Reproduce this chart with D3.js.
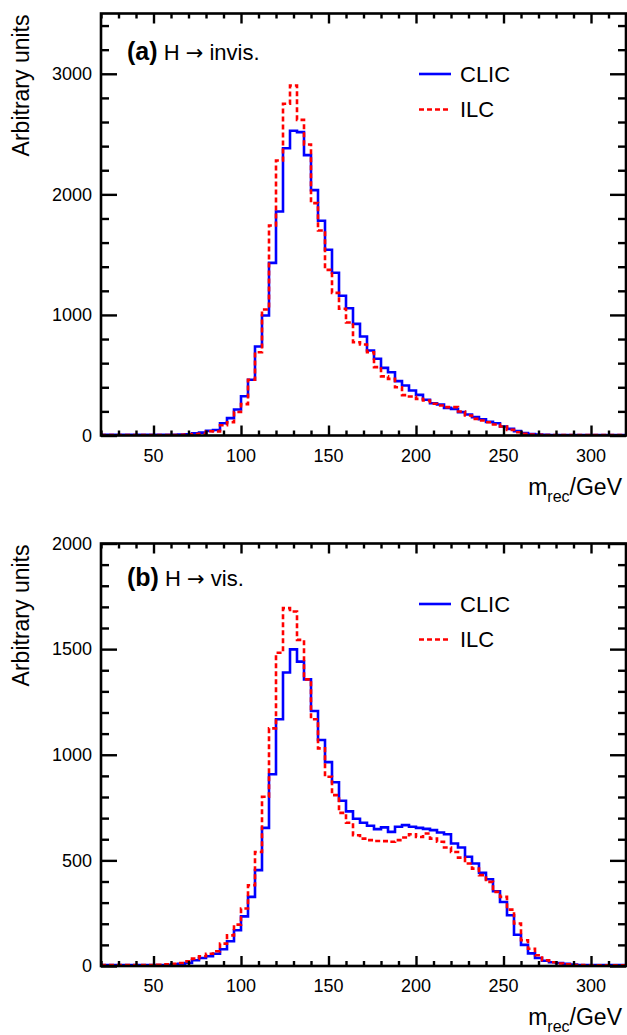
<!DOCTYPE html>
<html>
<head>
<meta charset="utf-8">
<script src="https://cdn.jsdelivr.net/npm/d3@7"></script>
<style>
html,body{margin:0;padding:0;background:#fff;}
svg{display:block;font-family:"Liberation Sans",Arial,Helvetica,sans-serif;}
</style>
</head>
<body>
<svg id="chart" width="627" height="1035"></svg>
<script>
// ---- data ----
// bin lower edges (4 GeV bins from 20 to 320)
const binEdges = d3.range(20, 321, 4);

const invisCLIC = [5,5,5,5,5,5,5,5,5,5,6,8,10,18,24,38,45,102,144,216,
  326,462,738,995,1432,1858,2383,2527,2516,2325,2035,1781,1540,1350,1159,1056,926,821,705,636,
  561,525,451,415,373,337,296,268,257,229,221,194,174,152,135,113,102,75,55,36,
  20,11,7,5,4,3,3,3,3,3,3,3,3,3,3];
const invisILC = [3,3,3,3,3,3,3,3,3,3,4,5,8,12,15,35,33,85,110,195,
  260,462,690,1045,1742,2281,2751,2903,2618,2414,1927,1700,1374,1183,1051,937,774,755,690,567,
  490,470,400,335,323,304,290,263,249,235,235,199,166,138,124,110,91,75,47,27,
  15,8,5,4,3,3,3,3,3,3,3,3,3,3,3];
const visCLIC = [4,4,4,4,4,4,4,4,4,4,8,11,14,27,38,46,58,79,117,169,
  235,327,454,654,908,1168,1389,1499,1441,1357,1207,1070,965,870,782,732,697,678,664,648,
  656,635,659,667,659,654,649,643,632,624,580,561,517,485,441,411,354,303,240,148,
  100,60,38,25,18,14,10,7,5,4,4,4,4,4,4];
const visILC = [4,4,4,4,4,4,4,4,6,8,11,14,22,35,46,58,70,106,145,196,
  272,382,540,801,1125,1483,1694,1678,1544,1357,1168,1030,896,809,725,678,619,603,596,592,
  591,588,596,608,624,611,627,603,588,561,540,513,485,461,430,398,351,327,267,201,
  122,82,51,27,18,12,8,5,4,3,3,3,3,3,3];

const xMajorTicks = [50,100,150,200,250,300];
const topYTicks = [0,1000,2000,3000];
const botYTicks = [0,500,1000,1500,2000];
const seriesNames = ["CLIC","ILC"];

// ---- drawing ----
const svg = d3.select("#chart");
const XL = 101, XR = 626;

function drawPanel(o){
  const g = svg.append("g");
  const x = d3.scaleLinear().domain([20,320]).range([XL,XR]);
  const y = d3.scaleLinear().domain([0,o.ymax]).range([o.yBottom,o.yTop]);

  const clipId = "clip"+o.id;
  svg.append("clipPath").attr("id",clipId).append("rect")
    .attr("x",XL).attr("y",o.yTop).attr("width",XR-XL).attr("height",o.yBottom-o.yTop);

  // histograms
  function stepPath(vals){
    const pts = [];
    vals.forEach((v,i)=>{
      pts.push([x(binEdges[i]), y(v)]);
      pts.push([x(binEdges[i+1]), y(v)]);
    });
    return d3.line()(pts);
  }
  const hg = g.append("g").attr("clip-path","url(#"+clipId+")");
  hg.append("path").attr("d",stepPath(o.clic)).attr("fill","none")
    .attr("stroke","#0000ff").attr("stroke-width",2.6);
  hg.append("path").attr("d",stepPath(o.ilc)).attr("fill","none")
    .attr("stroke","#ff0000").attr("stroke-width",2.6).attr("stroke-dasharray","5,3");

  // axes with inward ticks
  const xMinor = d3.range(20,321,10).filter(v=>v%50!==0);
  const yMinor = d3.range(0,o.ymax+1,o.minorStep).filter(v=>v%o.majorStep!==0);
  const yMajor = d3.range(0,o.ymax+1,o.majorStep);

  function ax(axisGen, tx, ty){
    const a = g.append("g").attr("transform",`translate(${tx},${ty})`).call(axisGen);
    a.select(".domain").remove();
    a.selectAll("line").attr("stroke","#000").attr("stroke-width",2.4);
    return a;
  }
  // bottom
  ax(d3.axisTop(x).tickValues(xMajorTicks).tickSize(10).tickFormat(""),0,o.yBottom);
  ax(d3.axisTop(x).tickValues(xMinor).tickSize(5).tickFormat(""),0,o.yBottom);
  // top
  ax(d3.axisBottom(x).tickValues(xMajorTicks).tickSize(10).tickFormat(""),0,o.yTop);
  ax(d3.axisBottom(x).tickValues(xMinor).tickSize(5).tickFormat(""),0,o.yTop);
  // left
  ax(d3.axisRight(y).tickValues(yMajor).tickSize(16).tickFormat(""),XL,0);
  ax(d3.axisRight(y).tickValues(yMinor).tickSize(8).tickFormat(""),XL,0);
  // right
  ax(d3.axisLeft(y).tickValues(yMajor).tickSize(16).tickFormat(""),XR,0);
  ax(d3.axisLeft(y).tickValues(yMinor).tickSize(8).tickFormat(""),XR,0);

  // frame
  g.append("rect").attr("x",XL).attr("y",o.yTop).attr("width",XR-XL).attr("height",o.yBottom-o.yTop)
    .attr("fill","none").attr("stroke","#000").attr("stroke-width",2.6);

  // tick labels
  g.selectAll(".xl").data(xMajorTicks).enter().append("text")
    .attr("x",d=>x(d)).attr("y",o.yBottom+26).attr("text-anchor","middle")
    .attr("font-size",18).text(d=>d);
  g.selectAll(".yl").data(o.yLabels).enter().append("text")
    .attr("x",92).attr("y",d=>y(d)).attr("dy","0.35em").attr("text-anchor","end")
    .attr("font-size",18).text(d=>d);

  // axis titles
  g.append("text").attr("transform",`translate(29,${o.yTop+1}) rotate(-90)`)
    .attr("text-anchor","end").attr("font-size",23).text("Arbitrary units");
  const xt = g.append("text").attr("x",622).attr("y",o.yBottom+59).attr("text-anchor","end").attr("font-size",23);
  xt.append("tspan").text("m");
  xt.append("tspan").attr("font-size",16).attr("dy",7).text("rec");
  xt.append("tspan").attr("dy",-7).text("/GeV");

  // panel label
  const lab = g.append("text").attr("x",127).attr("y",o.labelY).attr("font-size",22);
  lab.append("tspan").attr("font-weight","bold").attr("font-size",25).text(o.tag);
  lab.append("tspan").text(" H ");
  lab.append("tspan").attr("font-family","DejaVu Sans").attr("font-size",21).text("\u2192");
  lab.append("tspan").text(" "+o.proc);

  // legend
  const leg = [{n:seriesNames[0],c:"#0000ff",dash:null,y:o.yTop+60.5},
               {n:seriesNames[1],c:"#ff0000",dash:"5,3",y:o.yTop+96}];
  leg.forEach(l=>{
    g.append("line").attr("x1",419).attr("x2",451).attr("y1",l.y).attr("y2",l.y)
      .attr("stroke",l.c).attr("stroke-width",2.6).attr("stroke-dasharray",l.dash);
    g.append("text").attr("x",460).attr("y",l.y).attr("dy","0.36em").attr("font-size",22).text(l.n);
  });
}

drawPanel({id:"a",ymax:3500,yTop:13.5,yBottom:435.5,majorStep:1000,minorStep:200,
  yLabels:topYTicks,clic:invisCLIC,ilc:invisILC,tag:"(a)",proc:"invis.",labelY:60});
drawPanel({id:"b",ymax:2000,yTop:543.5,yBottom:966,majorStep:500,minorStep:100,
  yLabels:botYTicks,clic:visCLIC,ilc:visILC,tag:"(b)",proc:"vis.",labelY:586});
</script>
</body>
</html>
